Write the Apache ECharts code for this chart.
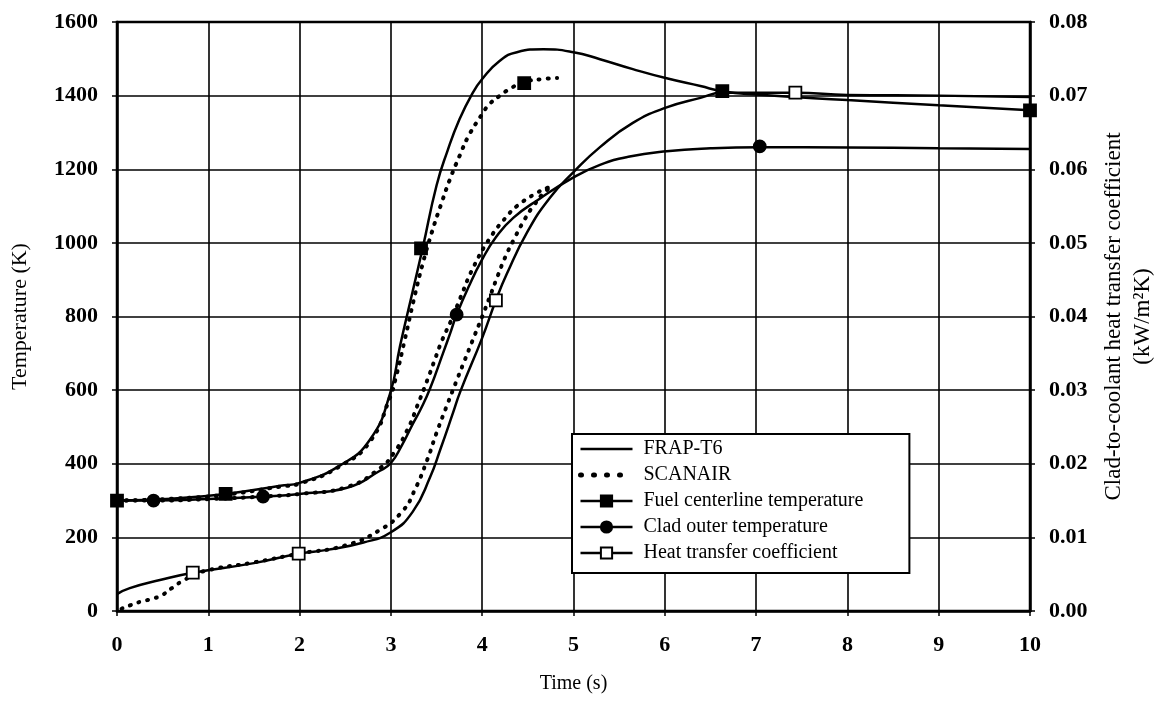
<!DOCTYPE html>
<html>
<head>
<meta charset="utf-8">
<script src="https://cdn.jsdelivr.net/npm/echarts@6/dist/echarts.min.js"></script>
<style>html,body{margin:0;padding:0;background:#fff}#c{width:1164px;height:711px}</style>
</head>
<body>
<div id="c"></div>
<script>
// ---- data (time s, temperature K / HTC kW/m2K) ----
const fuelFrap = [[0,300],[0.6,305],[1.19,318],[1.79,340],[2,348],[2.44,395],[2.77,465],[2.99,590],[3.1,720],[3.24,870],[3.35,988],[3.5,1156],[3.62,1250],[3.75,1335],[3.89,1405],[4.0,1445],[4.19,1494],[4.38,1518],[4.67,1526],[5.0,1518],[5.29,1499],[5.65,1472],[6.02,1447],[6.39,1426],[6.63,1412],[7,1403],[8,1388],[9,1374],[10,1360]];
const fuelScan = [[0,300],[0.6,305],[1.19,316],[1.79,338],[2,346],[2.44,393],[2.77,460],[2.99,580],[3.05,630],[3.15,735],[3.25,845],[3.35,945],[3.45,1030],[3.55,1105],[3.65,1175],[3.75,1235],[3.85,1290],[4.0,1350],[4.08,1377],[4.19,1399],[4.3,1418],[4.46,1437],[4.67,1445],[4.82,1448]];
const cladFrap = [[0,300],[0.4,300],[1,304],[1.6,311],[2,318],[2.52,335],[2.88,381],[3.0,402],[3.12,450],[3.24,508],[3.33,550],[3.43,605],[3.57,700],[3.65,755],[3.72,805],[3.85,880],[4.0,955],[4.15,1015],[4.34,1068],[4.63,1120],[5.0,1178],[5.29,1212],[5.6,1234],[6.02,1249],[6.5,1257],[7.04,1260],[8,1259],[9,1257],[10,1255]];
const cladScan = [[0,300],[0.4,300],[1,304],[1.6,311],[2,318],[2.52,337],[2.88,388],[3.04,432],[3.19,497],[3.29,558],[3.4,628],[3.48,682],[3.56,735],[3.67,795],[3.76,850],[3.9,932],[4.09,1015],[4.27,1072],[4.38,1100],[4.6,1136],[4.72,1150],[4.8,1155]];
const htcFrap = [[0,0.0023],[0.14,0.0031],[0.47,0.0042],[0.83,0.0052],[1.5,0.0065],[2,0.0078],[2.3,0.0083],[2.7,0.0093],[3.0,0.0107],[3.24,0.0135],[3.43,0.0182],[3.54,0.0219],[3.68,0.0269],[3.76,0.0298],[4.0,0.0371],[4.15,0.0422],[4.27,0.0458],[4.49,0.0514],[4.74,0.0561],[5.0,0.0596],[5.29,0.063],[5.65,0.0663],[6.02,0.0684],[6.39,0.0697],[6.63,0.0704],[7.43,0.0704],[8,0.0701],[9,0.0700],[10,0.0698]];
const htcScan = [[0.05,0.0003],[0.15,0.0008],[0.27,0.0013],[0.4,0.0017],[0.5,0.0022],[0.6,0.0031],[0.75,0.0043],[0.95,0.0054],[1.5,0.0066],[2,0.0078],[2.5,0.0089],[2.88,0.011],[3.13,0.0136],[3.26,0.0164],[3.4,0.0206],[3.5,0.0242],[3.61,0.0278],[3.72,0.0313],[3.8,0.0338],[3.89,0.0366],[4.0,0.04],[4.09,0.0429],[4.16,0.0452],[4.25,0.048],[4.34,0.0503],[4.47,0.0533],[4.56,0.055],[4.71,0.0572],[4.8,0.0576]];
const fuelMarks = [[0,300],[1.19,318],[3.33,985],[4.46,1434],[6.63,1412],[10,1360]];
const cladMarks = [[0.4,300],[1.6,311],[3.72,805],[7.04,1262]];
const htcMarks = [[0.83,0.0052],[1.99,0.0078],[4.15,0.0422],[7.43,0.0704]];
const legendNames = ['FRAP-T6','SCANAIR','Fuel centerline temperature','Clad outer temperature','Heat transfer coefficient'];
const xTitle = 'Time (s)';
const yTitle = 'Temperature (K)';
const y2Title = 'Clad-to-coolant heat transfer coefficient\n(kW/m\u00B2K)';

const FONT = '"Liberation Serif", "DejaVu Serif", serif';
const solid = {color:'#000', width:2.5, type:'solid'};
const dotted = {color:'#000', width:4, type:[1,8], cap:'round'};

function line(data, style, yi){
  return {type:'line', data:data, yAxisIndex:yi||0, showSymbol:false, symbol:'none', smooth:0.5,
    lineStyle:style, itemStyle:{color:'#000'}, silent:true, z:3, animation:false};
}
function marks(data, sym, fill, yi){
  return {type:'scatter', data:data, yAxisIndex:yi||0, symbol:sym, symbolSize:12,
    itemStyle:{color:fill, borderColor:'#000', borderWidth:1.8, opacity:1},
    z:5, clip:false, silent:true, animation:false};
}
function legendSeries(name, sym, fill, style){
  return {name:name, type:'line', data:[], symbol:sym, symbolSize:12, lineStyle:style,
    itemStyle:{color:fill, borderColor: sym==='none' ? 'rgba(0,0,0,0)' : '#000', borderWidth: sym==='none' ? 0 : 1.8}};
}

const chart = echarts.init(document.getElementById('c'), null, {renderer:'canvas'});
chart.setOption({
  animation:false,
  backgroundColor:'#fff',
  textStyle:{fontFamily:FONT, color:'#000'},
  grid:{left:117, right:134, top:22, bottom:100, show:true, borderColor:'#000', borderWidth:2.5,
    backgroundColor:'transparent', containLabel:false, outerBoundsMode:'none'},
  xAxis:{type:'value', min:0, max:10, interval:1, name:xTitle, nameLocation:'middle', nameGap:63,
    nameTextStyle:{fontFamily:FONT, fontSize:20, color:'#000'},
    axisLine:{lineStyle:{color:'#000', width:2.5}},
    axisTick:{show:true, inside:false, length:5, lineStyle:{color:'#000', width:1.5}},
    axisLabel:{fontFamily:FONT, fontSize:22, fontWeight:'bold', color:'#000', margin:23, formatter:v=>String(v)},
    splitLine:{show:true, lineStyle:{color:'#000', width:1.6}}},
  yAxis:[
    {type:'value', min:0, max:1600, interval:200, name:yTitle, nameLocation:'middle', nameGap:86, nameRotate:90,
      nameTextStyle:{fontFamily:FONT, fontSize:22, color:'#000'},
      axisLine:{show:true, lineStyle:{color:'#000', width:2.5}},
      axisTick:{show:true, length:5, lineStyle:{color:'#000', width:1.5}},
      axisLabel:{fontFamily:FONT, fontSize:22, fontWeight:'bold', color:'#000', margin:19, formatter:v=>String(v)},
      splitLine:{show:true, lineStyle:{color:'#000', width:1.6}}},
    {type:'value', min:0, max:0.08, interval:0.01, position:'right', name:y2Title, nameLocation:'middle', nameGap:69, nameRotate:90,
      nameTextStyle:{fontFamily:FONT, fontSize:23, color:'#000', lineHeight:29},
      axisLine:{show:true, lineStyle:{color:'#000', width:2.5}},
      axisTick:{show:true, length:5, lineStyle:{color:'#000', width:1.5}},
      axisLabel:{fontFamily:FONT, fontSize:22, fontWeight:'bold', color:'#000', margin:19, formatter:v=>v.toFixed(2)},
      splitLine:{show:false}}
  ],
  legend:{show:true, orient:'vertical', left:572, top:434, itemWidth:52, itemHeight:14, itemGap:6,
    padding:[5,46,10,6], backgroundColor:'#fff', borderColor:'#000', borderWidth:2,
    lineStyle:{width:2.5, color:'#000'},
    textStyle:{fontFamily:FONT, fontSize:20, lineHeight:20, color:'#000', padding:[0,0,0,6]},
    data:[legendNames[0], {name:legendNames[1], lineStyle:{width:5, type:[1,12], cap:'round'}}, legendNames[2], legendNames[3], legendNames[4]],
    selectedMode:false, z:10},
  series:[
    line(fuelFrap, solid), line(fuelScan, dotted),
    line(cladFrap, solid), line(cladScan, dotted),
    line(htcFrap, solid, 1), line(htcScan, dotted, 1),
    marks(fuelMarks, 'rect', '#000'),
    marks(cladMarks, 'circle', '#000'),
    marks(htcMarks, 'rect', '#fff', 1),
    legendSeries(legendNames[0], 'none', 'rgba(0,0,0,0)', solid),
    legendSeries(legendNames[1], 'none', 'rgba(0,0,0,0)', dotted),
    legendSeries(legendNames[2], 'rect', '#000', solid),
    legendSeries(legendNames[3], 'circle', '#000', solid),
    legendSeries(legendNames[4], 'rect', '#fff', solid)
  ]
});
</script>
</body>
</html>
